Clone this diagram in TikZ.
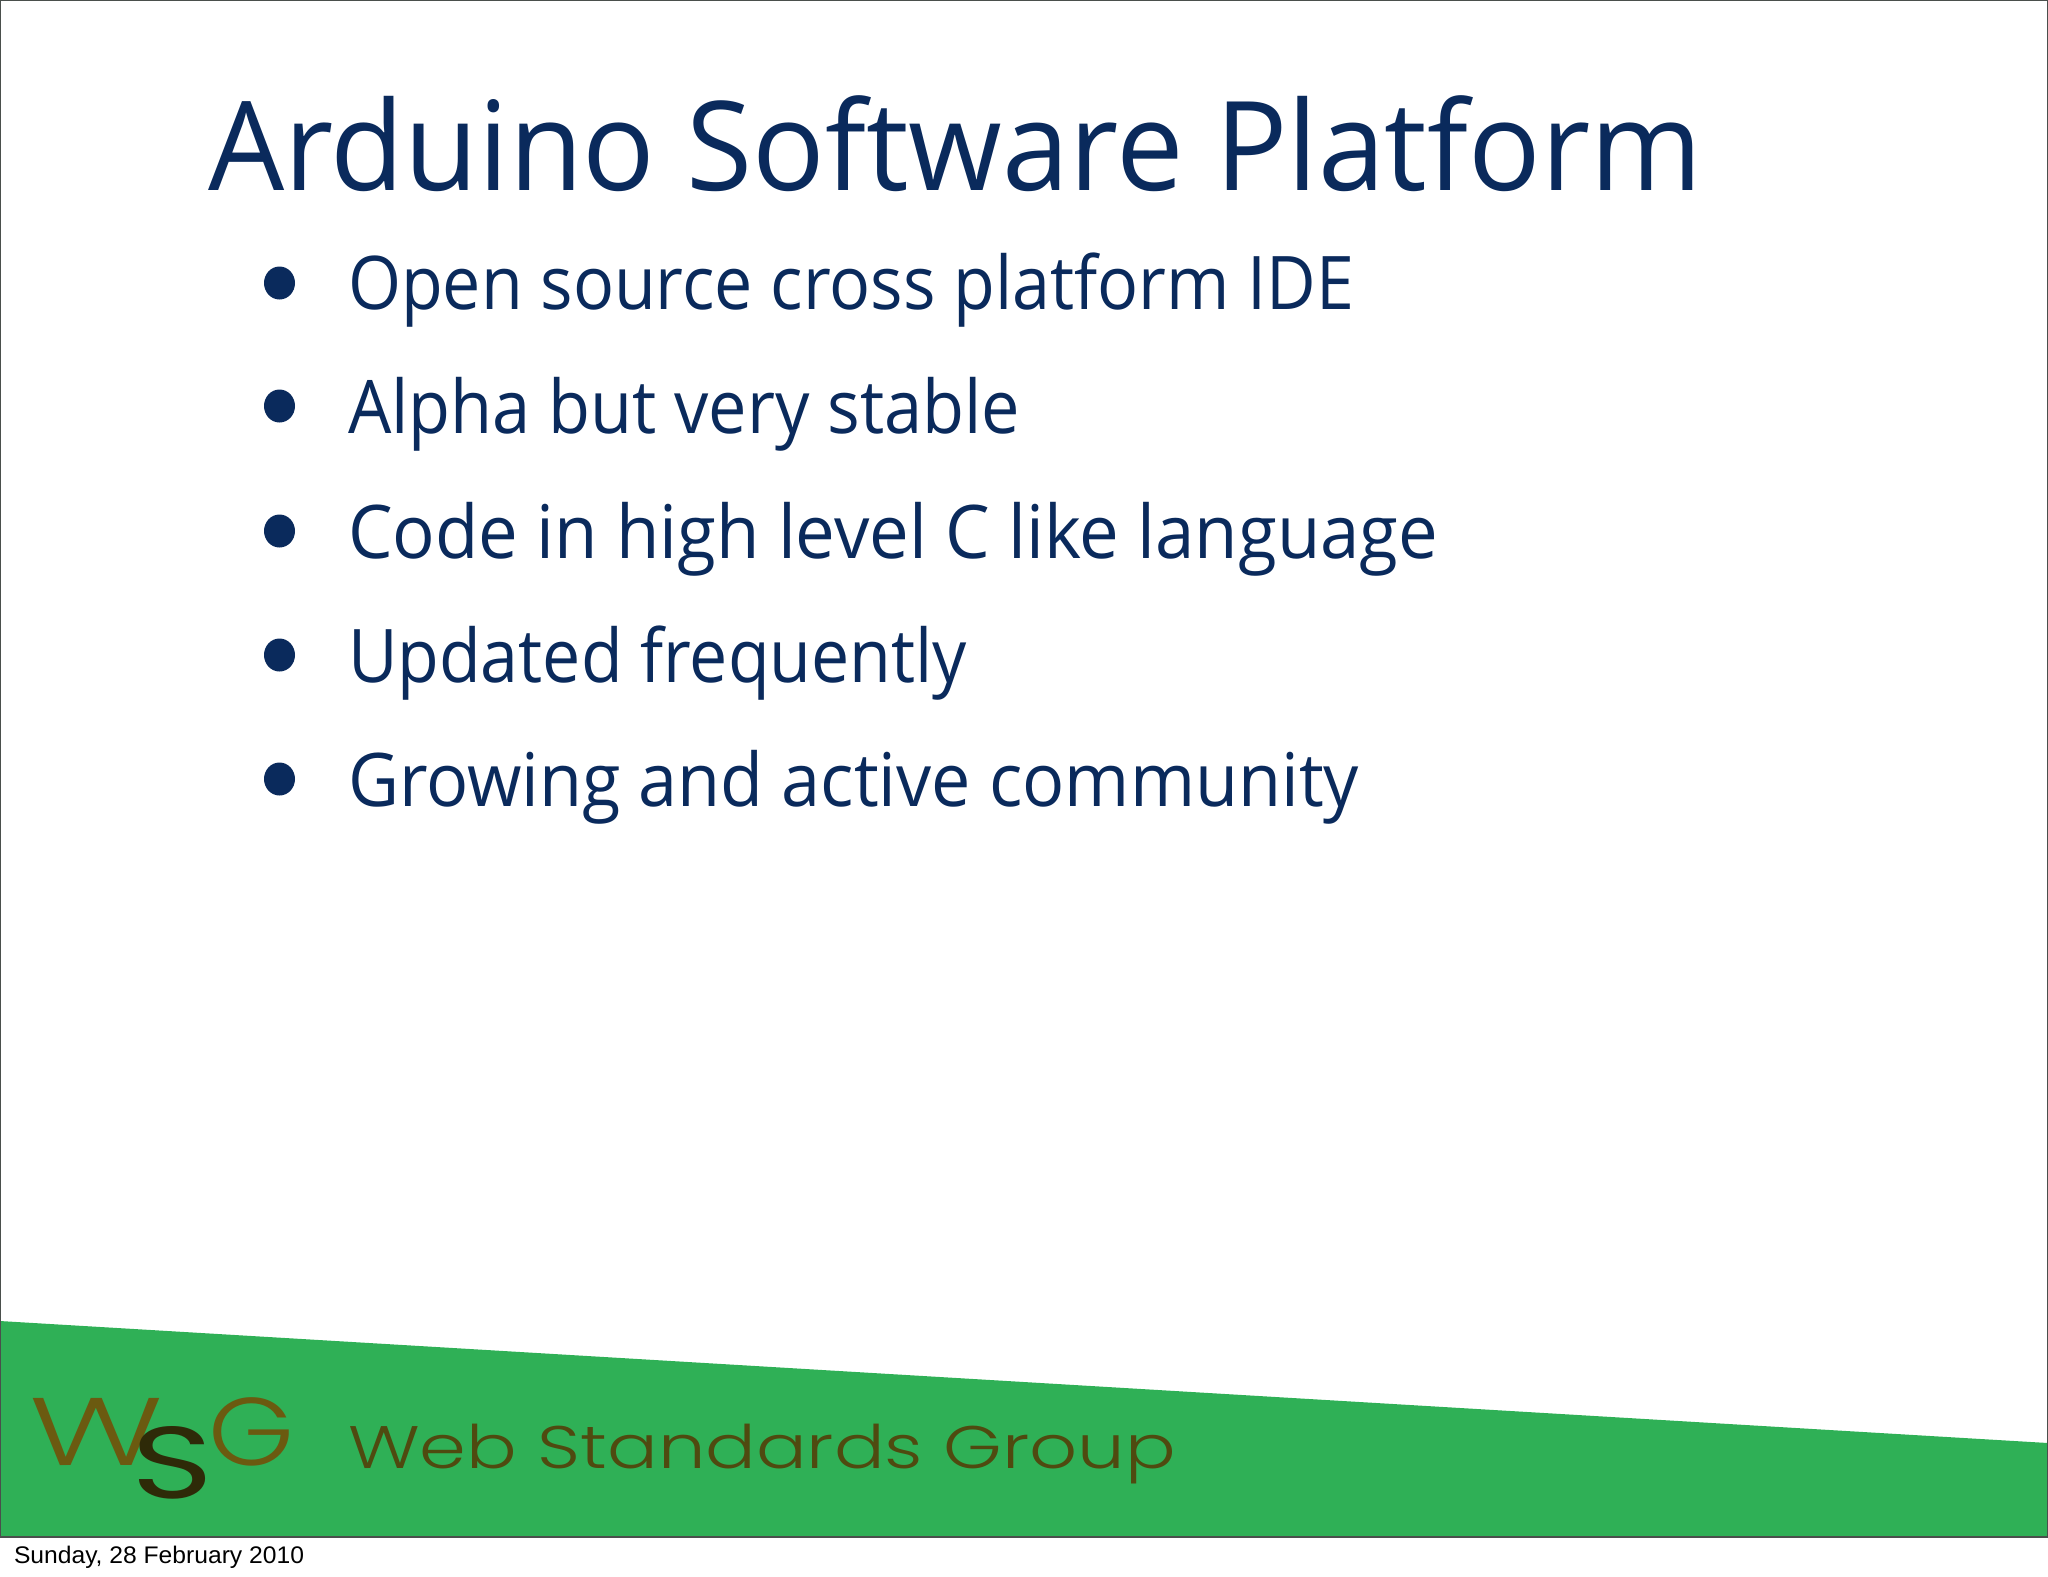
\documentclass[tikz,border=0pt]{standalone}
\usepackage{fontspec}
\usepackage{graphicx}
\setmainfont{Open Sans}
\newfontfamily\datefont{Liberation Sans}
\newfontfamily\logofont{Poppins Light}
\newfontfamily\logoheavy{Poppins}
\definecolor{navy}{HTML}{0A2A5C}
\definecolor{wsggreen}{HTML}{2FB056}
\definecolor{olive}{HTML}{6B5A10}
\definecolor{oliveDark}{HTML}{4F4A10}
\definecolor{sDark}{HTML}{2E2A08}
\definecolor{frame}{HTML}{4A4F4C}
\tikzset{
  x=0.5pt,y=-0.5pt,
  every node/.style={inner sep=0pt,outer sep=0pt,anchor=base west},
  titletext/.style={text=navy,font=\fontsize{62}{64}\selectfont},
  itemtext/.style={text=navy,font=\fontsize{37}{40}\selectfont},
  bulletdot/.style={fill=navy,draw=none,ellipse,minimum width=15.5pt,minimum height=16.5pt,anchor=center},
  logotext/.style={text=oliveDark,font=\logofont\fontsize{30}{30}\selectfont},
  logobig/.style={text=olive,font=\logofont\fontsize{48}{50}\selectfont},
  datetext/.style={text=black,font=\datefont\fontsize{12}{12}\selectfont}
}
\usetikzlibrary{shapes.geometric}
\begin{document}
\begin{tikzpicture}
\useasboundingbox (0,0) rectangle (2048,1576);
\fill[white] (0,0) rectangle (2048,1576);
\fill[wsggreen] (0,1321) -- (2048,1443) -- (2048,1537) -- (0,1537) -- cycle;
\draw[frame,line width=0.7pt] (0.7,1537) -- (0.7,0.7) -- (2047.3,0.7) -- (2047.3,1537) -- cycle;
\node[titletext] (title) at (208,190) {\resizebox{747pt}{\height}{Arduino Software Platform}};
\node[bulletdot] (b1) at (279.5,283) {};
\node[bulletdot] (b2) at (279.5,406) {};
\node[bulletdot] (b3) at (279.5,531) {};
\node[bulletdot] (b4) at (279.5,655) {};
\node[bulletdot] (b5) at (279.5,779) {};
\node[itemtext] (i1) at (348,309) {\resizebox{503pt}{\height}{Open source cross platform IDE}};
\node[itemtext] (i2) at (348,433) {\resizebox{336pt}{\height}{Alpha but very stable}};
\node[itemtext] (i3) at (348,558) {\resizebox{545pt}{\height}{Code in high level C like language}};
\node[itemtext] (i4) at (348,682) {\resizebox{309.5pt}{\height}{Updated frequently}};
\node[itemtext] (i5) at (348,806) {\resizebox{505.5pt}{\height}{Growing and active community}};
\node[logobig] (w) at (29,1465) {\resizebox{67pt}{\height}{W}};
\node[logobig] (g) at (208,1465) {\resizebox{43pt}{\height}{G}};
\node[logobig,text=sDark,font=\logoheavy\fontsize{51}{52}\selectfont] (s) at (131,1498) {\resizebox{41pt}{\height}{S}};
\node[logotext] (wsg) at (348,1468) {\resizebox{414pt}{\height}{Web Standards Group}};
\node[datetext] (date) at (14,1563) {\resizebox{145pt}{\height}{Sunday, 28 February 2010}};
\end{tikzpicture}
\end{document}
